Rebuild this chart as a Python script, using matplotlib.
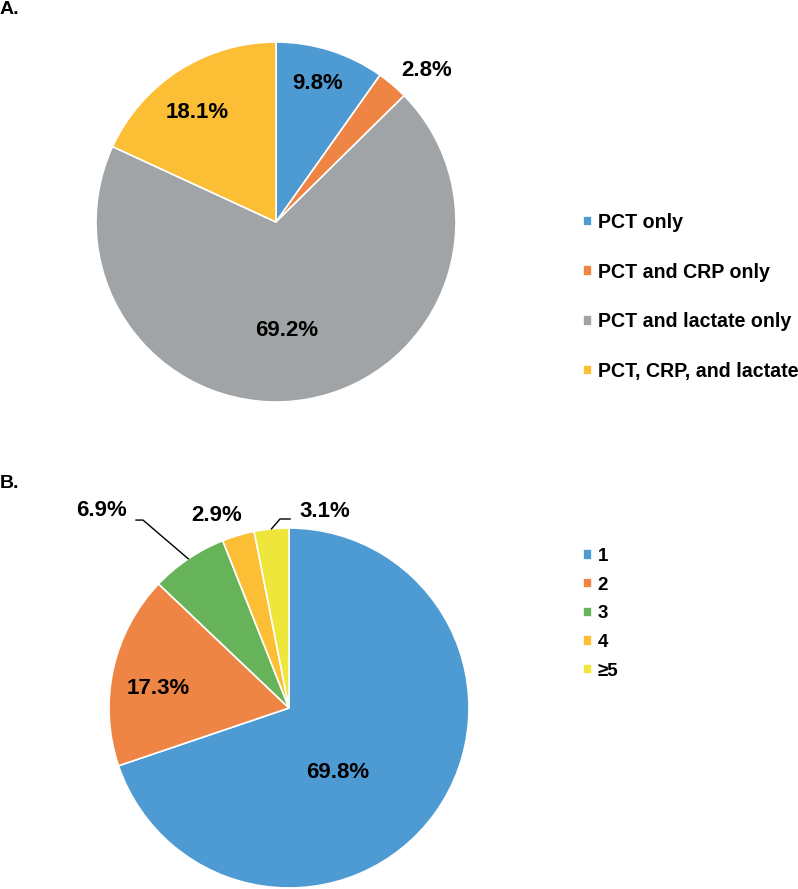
import numpy as np
import matplotlib
matplotlib.use('Agg')
import matplotlib.pyplot as plt

plt.rcParams['font.family'] = ['Liberation Sans', 'DejaVu Sans']
plt.rcParams['font.weight'] = 'bold'

# panel A data
labelsA = ['PCT only', 'PCT and CRP only', 'PCT and lactate only', 'PCT, CRP, and lactate']
valuesA = [9.8, 2.8, 69.2, 18.1]
colorsA = ['#4E9BD4', '#EE8544', '#A1A4A6', '#FCBE35']

# panel B data
labelsB = ['1', '2', '3', '4', '\u22655']
valuesB = [69.8, 17.3, 6.9, 2.9, 3.1]
colorsB = ['#4E9BD4', '#EE8544', '#67B35A', '#FCBE35', '#EEE63A']

W, H = 798, 889
fig = plt.figure(figsize=(W / 100, H / 100), dpi=100)


def pie_axes(cx, cy, r):
    # axes in pixel coords, pie of radius 1 fills it
    return fig.add_axes([(cx - r) / W, 1 - (cy + r) / H, 2 * r / W, 2 * r / H])


def mid_angle(values, i):
    # start at 90 deg, clockwise
    total = sum(values)
    before = sum(values[:i]) + values[i] / 2
    return np.deg2rad(90 - 360 * before / total)


lblsize = 16

# ---- A ----
axA = pie_axes(276, 222, 180)
wedgesA, _ = axA.pie(valuesA, colors=colorsA, startangle=90, counterclock=False,
                     wedgeprops=dict(edgecolor='white', linewidth=1.2))
axA.set_xlim(-1, 1)
axA.set_ylim(-1, 1)
posA = [(0.233, 0.772), (0.839, 0.844), (0.061, -0.6), (-0.439, 0.606)]
for v, (x, y) in zip(valuesA, posA):
    axA.text(x, y, f'{v:.1f}%', ha='center', va='center', fontsize=lblsize,
             fontweight='bold')

fig.text(0.0, 1 - 9 / H, 'A.', fontsize=14, fontweight='bold', va='center', ha='left')
fig.legend(wedgesA, labelsA, loc='center left', bbox_to_anchor=(583 / W, 1 - 297 / H),
           frameon=False, fontsize=14.1, handlelength=0.45, handleheight=0.45,
           handletextpad=0.3, labelspacing=1.57, borderpad=0, borderaxespad=0)

# ---- B ----
axB = pie_axes(289, 708, 180)
wedgesB, _ = axB.pie(valuesB, colors=colorsB, startangle=90, counterclock=False,
                     wedgeprops=dict(edgecolor='white', linewidth=1.2))
axB.set_xlim(-1, 1)
axB.set_ylim(-1, 1)
posB = [(0.272, -0.361), (-0.728, 0.106), (-1.039, 1.10), (-0.40, 1.067), (0.20, 1.089)]
for v, (x, y) in zip(valuesB, posB):
    axB.text(x, y, f'{v:.1f}%', ha='center', va='center', fontsize=lblsize,
             fontweight='bold', clip_on=False)

# leader lines for small slices
for i, elbow, end in [(2, (-0.811, 1.044), (-0.85, 1.044)), (4, (-0.05, 1.05), (0.006, 1.05))]:
    a = mid_angle(valuesB, i)
    axB.plot([np.cos(a), elbow[0], end[0]], [np.sin(a), elbow[1], end[1]],
             color='black', lw=1, clip_on=False)

fig.text(0.0, 1 - 483 / H, 'B.', fontsize=14, fontweight='bold', va='center', ha='left')
fig.legend(wedgesB, labelsB, loc='center left', bbox_to_anchor=(583 / W, 1 - 614 / H),
           frameon=False, fontsize=13.5, handlelength=0.47, handleheight=0.47,
           handletextpad=0.3, labelspacing=0.62, borderpad=0, borderaxespad=0)

fig.savefig('out.png', dpi=100)
